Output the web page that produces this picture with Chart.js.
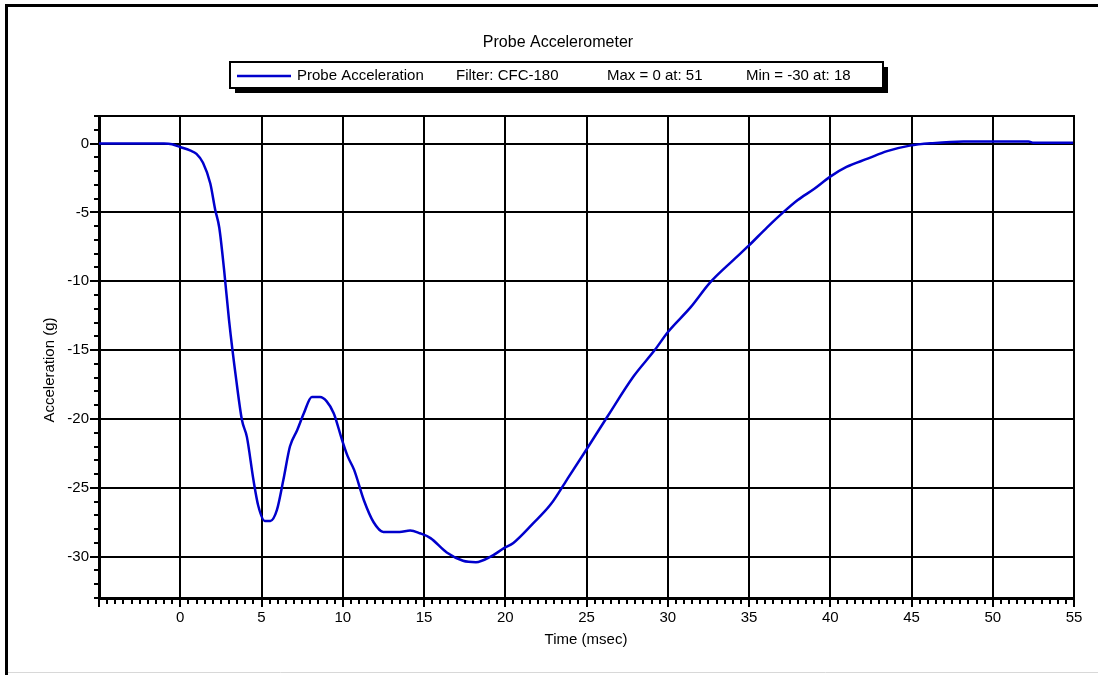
<!DOCTYPE html>
<html>
<head>
<meta charset="utf-8">
<title>Probe Accelerometer</title>
<script src="https://cdn.jsdelivr.net/npm/chart.js@4.4.1/dist/chart.umd.min.js"></script>
<style>
    body { margin: 0; background: #fff; }
    canvas { display: block; }
</style>
</head>
<body>
<canvas id="accelChart" width="1098" height="675"></canvas>
<script>
// Data (time in msec, acceleration in g)
const timeMs = [-5, -1, -0.5, 0, 0.6, 1.0, 1.4, 1.85, 2.15, 2.4, 2.7, 3.0, 3.45, 3.8, 4.1, 4.5, 4.8, 5.2, 5.55, 5.95,
    6.35, 6.75, 7.2, 7.6, 8.1, 8.6, 9.0, 9.45, 9.95, 10.3, 10.7, 11.3, 11.9, 12.5, 13.5, 14.15, 14.75, 15.4, 16.4, 17.4,
    18.2, 19.1, 19.9, 20.5, 21.7, 22.8, 23.8, 24.9, 26.3, 27.9, 29.2, 30.0, 31.4, 32.6, 34.0, 35.0, 36.1, 37.1, 38.0, 39.0,
    40.0, 41.0, 42.3, 43.5, 44.9, 46.3, 48.2, 52.2, 52.5, 55];
const accelG = [0, 0, -0.05, -0.25, -0.5, -0.75, -1.4, -2.9, -4.8, -6.1, -9.2, -12.8, -17.2, -20.1, -21.3, -24.4, -26.3, -27.4, -27.4, -26.6,
    -24.4, -22.0, -20.8, -19.6, -18.4, -18.4, -18.7, -19.6, -21.5, -22.7, -23.7, -25.9, -27.5, -28.2, -28.2, -28.1, -28.3, -28.65, -29.7, -30.3,
    -30.4, -30.0, -29.4, -29.0, -27.6, -26.2, -24.4, -22.4, -19.8, -16.9, -15.0, -13.7, -11.9, -10.1, -8.5, -7.4, -6.1, -5.0, -4.1, -3.3,
    -2.4, -1.7, -1.1, -0.55, -0.15, 0.03, 0.15, 0.15, 0.05, 0.05];

// Axis ranges, labelled ticks and minor tick steps
const xRange = [-5, 55];
const yRange = [-33, 2];
const xTicks = [-5, 0, 5, 10, 15, 20, 25, 30, 35, 40, 45, 50, 55];
const yTicks = [-30, -25, -20, -15, -10, -5, 0];
const xMinorStep = 0.5;
const yMinorStep = 1;

// Legend strings
const chartTitle = 'Probe Accelerometer';
const seriesName = 'Probe Acceleration';
const legendExtras = ['Filter: CFC-180', 'Max = 0 at: 51', 'Min = -30 at: 18'];

const FONT = '"Liberation Sans", Arial, sans-serif';
const lineBlue = '#0000cc';

// Frame, title, legend box, axis titles and the major/minor tick marks
const decorations = {
    id: 'decorations',
    beforeDraw(chart) {
        const c = chart.ctx;
        c.save();
        c.fillStyle = '#fff';
        c.fillRect(0, 0, chart.width, chart.height);
        c.strokeStyle = '#000';
        c.lineWidth = 3;
        c.beginPath();
        c.moveTo(6.5, chart.height);
        c.lineTo(6.5, 5.5);
        c.lineTo(chart.width, 5.5);
        c.stroke();
        c.strokeStyle = '#d8d8d8';
        c.lineWidth = 1;
        c.beginPath();
        c.moveTo(8, 672.5);
        c.lineTo(chart.width, 672.5);
        c.stroke();
        c.restore();
    },
    afterDraw(chart) {
        const c = chart.ctx;
        const area = chart.chartArea;
        const xs = chart.scales.x, ys = chart.scales.y;
        c.save();

        // top and right edges of the plot area
        c.strokeStyle = '#000';
        c.lineWidth = 2;
        c.beginPath();
        c.moveTo(area.left, area.top);
        c.lineTo(area.right, area.top);
        c.lineTo(area.right, area.bottom);
        c.stroke();

        // tick marks below the x axis (longer at the labelled values)
        c.beginPath();
        for (let v = xRange[0]; v <= xRange[1] + 1e-9; v += xMinorStep) {
            const px = Math.round(xs.getPixelForValue(v));
            const major = xTicks.some(t => Math.abs(t - v) < 1e-6);
            c.moveTo(px, area.bottom);
            c.lineTo(px, area.bottom + (major ? 9 : 6));
        }
        // tick marks left of the y axis
        for (let v = Math.ceil(yRange[0]); v <= yRange[1] + 1e-9; v += yMinorStep) {
            const py = Math.round(ys.getPixelForValue(v));
            const major = yTicks.includes(v);
            c.moveTo(area.left, py);
            c.lineTo(area.left - (major ? 9 : 5), py);
        }
        c.stroke();

        // title
        c.fillStyle = '#000';
        c.font = '16px ' + FONT;
        c.textAlign = 'center';
        c.textBaseline = 'middle';
        c.fillText(chartTitle, 558, 43);

        // legend box with drop shadow
        const bx = 230, by = 62, bw = 653, bh = 26;
        c.fillStyle = '#000';
        c.fillRect(bx + 5, by + 5, bw, bh);
        c.fillStyle = '#fff';
        c.fillRect(bx, by, bw, bh);
        c.strokeStyle = '#000';
        c.lineWidth = 2;
        c.strokeRect(bx, by, bw, bh);

        c.strokeStyle = lineBlue;
        c.lineWidth = 2.5;
        c.beginPath();
        c.moveTo(237, 76);
        c.lineTo(291, 76);
        c.stroke();

        c.font = '15px ' + FONT;
        c.fillStyle = '#000';
        c.textAlign = 'left';
        c.fillText(seriesName, 297, 76);
        const extraX = [456, 607, 746];
        legendExtras.forEach((s, i) => c.fillText(s, extraX[i], 76));

        // axis titles
        c.textAlign = 'center';
        c.fillText('Time (msec)', 586, 640);
        c.translate(50, 370);
        c.rotate(-Math.PI / 2);
        c.fillText('Acceleration (g)', 0, 0);

        c.restore();
    }
};

const ctx = document.getElementById('accelChart').getContext('2d');
const accelChart = new Chart(ctx, {
    type: 'line',
    data: {
        datasets: [{
            label: seriesName,
            data: timeMs.map((t, i) => ({ x: t, y: accelG[i] })),
            borderColor: lineBlue,
            borderWidth: 2.5,
            pointRadius: 0,
            cubicInterpolationMode: 'monotone',
            fill: false
        }]
    },
    options: {
        responsive: false,
        animation: false,
        devicePixelRatio: 1,
        layout: {
            padding: { top: 116, right: 24, left: 0, bottom: 0 }
        },
        plugins: {
            legend: { display: false },
            title: { display: false },
            tooltip: { enabled: false }
        },
        scales: {
            x: {
                type: 'linear',
                min: xRange[0],
                max: xRange[1],
                afterFit: (scale) => { scale.height = 77; },
                afterBuildTicks: (scale) => { scale.ticks = xTicks.map(v => ({ value: v })); },
                grid: { color: '#000', lineWidth: 2, drawTicks: false },
                border: { color: '#000', width: 3 },
                ticks: {
                    padding: 11,
                    color: '#000',
                    font: { family: FONT, size: 15 },
                    maxRotation: 0,
                    autoSkip: false,
                    callback: (v) => (v === xRange[0] ? '' : v)
                }
            },
            y: {
                type: 'linear',
                min: yRange[0],
                max: yRange[1],
                afterFit: (scale) => { scale.width = 99; },
                afterBuildTicks: (scale) => { scale.ticks = yTicks.map(v => ({ value: v })); },
                grid: { color: '#000', lineWidth: 2, drawTicks: false },
                border: { color: '#000', width: 3 },
                ticks: {
                    padding: 10,
                    color: '#000',
                    font: { family: FONT, size: 15 }
                }
            }
        }
    },
    plugins: [decorations]
});
</script>
</body>
</html>
